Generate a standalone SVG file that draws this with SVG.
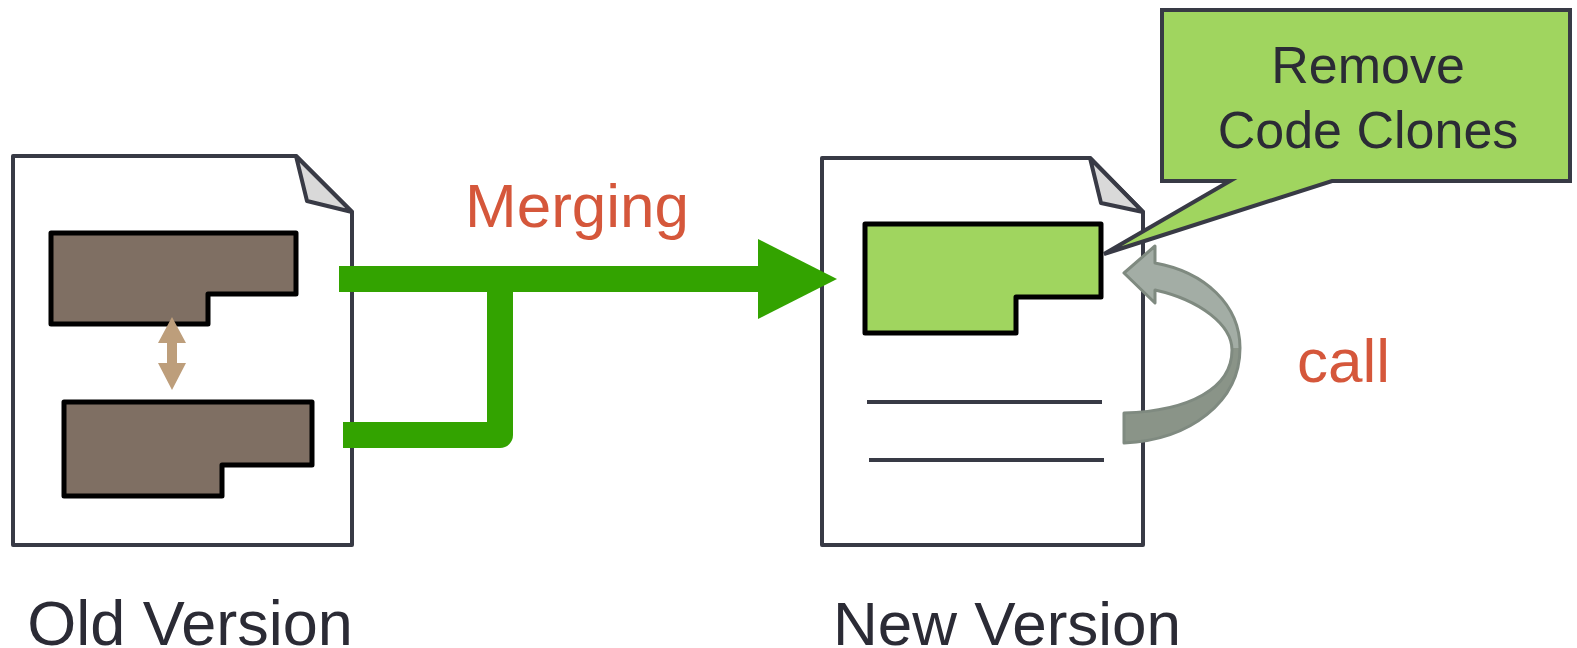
<svg xmlns="http://www.w3.org/2000/svg" width="1577" height="648" viewBox="0 0 1577 648">
<style>
.doc{fill:#fff;stroke:#383a45;stroke-width:4;stroke-linejoin:round}
.fold{fill:#d9d9d9;stroke:#383a45;stroke-width:4;stroke-linejoin:round}
.blk{fill:#7f6f63;stroke:#000;stroke-width:5;stroke-linejoin:round}
.gblk{fill:#a0d55f;stroke:#000;stroke-width:5;stroke-linejoin:round}
.ln{stroke:#383a45;stroke-width:4}
.lbl{font-family:"Liberation Sans",Arial,sans-serif;fill:#2b2b35}
.red{font-family:"Liberation Sans",Arial,sans-serif;fill:#d5573b}
.flow{fill:none;stroke:#33a300;stroke-width:26;stroke-linejoin:round}
</style>
<defs>
<linearGradient id="gcall" x1="0" y1="0" x2="0" y2="1">
<stop offset="0" stop-color="#a3ada5"/>
<stop offset="0.52" stop-color="#a3ada5"/>
<stop offset="0.52" stop-color="#8a9488"/>
<stop offset="1" stop-color="#8a9488"/>
</linearGradient>
</defs>
<g id="old-version">
<path class="doc" d="M13 156 L296 156 L352 212 L352 545 L13 545 Z"/>
<path class="fold" d="M296 156 L307 201 L352 212 Z"/>
<path class="blk" d="M51 233 L296 233 L296 294 L208 294 L208 324 L51 324 Z"/>
<path class="blk" d="M64 402 L312 402 L312 465 L222 465 L222 496 L64 496 Z"/>
<path fill="#bd9e7b" d="M172 317 L186 343 L177 343 L177 363 L186 363 L172 390 L158 363 L167 363 L167 343 L158 343 Z"/>
<text class="lbl" x="190" y="645" font-size="63" text-anchor="middle">Old Version</text>
</g>
<g id="new-version">
<path class="doc" d="M822 158 L1090 158 L1143 212 L1143 545 L822 545 Z"/>
<path class="fold" d="M1090 158 L1101 203 L1143 212 Z"/>
<path class="gblk" d="M865 224 L1101 224 L1101 297 L1016 297 L1016 333 L865 333 Z"/>
<line class="ln" x1="867" y1="402" x2="1102" y2="402"/>
<line class="ln" x1="869" y1="460" x2="1104" y2="460"/>
<text class="lbl" x="1007" y="645" font-size="62" text-anchor="middle">New Version</text>
</g>
<g id="callout">
<path fill="#a0d55f" stroke="#383a45" stroke-width="4" stroke-linejoin="miter" d="M1162 10 L1570 10 L1570 181 L1332 181 L1104 254 L1230 181 L1162 181 Z"/>
<text class="lbl" x="1368" y="83" font-size="52" text-anchor="middle">Remove</text>
<text class="lbl" x="1368" y="148" font-size="52" text-anchor="middle">Code Clones</text>
</g>
<g id="connectors">
<path class="flow" d="M339 279 L765 279"/>
<path class="flow" d="M343 435 L500 435 L500 279"/>
<path fill="#33a300" d="M758 239 L837 279 L758 319 Z"/>
<path fill="url(#gcall)" stroke="#7f8a80" stroke-width="3" stroke-linejoin="round" d="M1124 443 C1190 440 1240 402 1240 348 C1240 305 1205 272 1155 263 L1155 246 L1124 273 L1155 303 L1155 290 C1200 300 1232 325 1232 350 C1232 388 1190 411 1124 413 Z"/>
<text class="red" x="577" y="227" font-size="62" text-anchor="middle">Merging</text>
<text class="red" x="1297" y="382" font-size="62">call</text>
</g>
</svg>
